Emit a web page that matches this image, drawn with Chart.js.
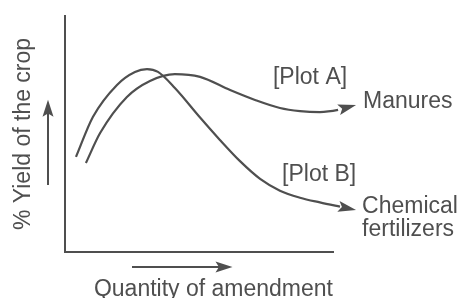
<!DOCTYPE html>
<html>
<head>
<meta charset="utf-8">
<script src="https://cdn.jsdelivr.net/npm/chart.js@4.4.0/dist/chart.umd.min.js"></script>
<style>
  html, body { margin: 0; padding: 0; background: #fff; }
  canvas { display: block; }
</style>
</head>
<body>
<canvas id="grafico" width="459" height="298"></canvas>
<script>
// curve A (manures) and curve B (chemical fertilizers)
const manuresX = [7.8, 13.1, 23.1, 31.7, 41.0, 50.4, 61.6, 70.9, 80.2, 87.7, 95.1, 101.9, 108.6];
const manuresY = [37.7, 50.4, 65.7, 72.5, 75.4, 74.2, 68.6, 64.4, 61.0, 59.7, 59.3, 60.2, 62.3];
const chemicalX = [4.1, 10.4, 19.4, 26.1, 30.6, 34.7, 41.0, 50.4, 57.8, 65.3, 72.8, 80.2, 87.7, 95.1, 102.6, 108.6];
const chemicalY = [40.3, 57.2, 70.8, 76.3, 77.5, 76.3, 69.5, 57.0, 47.5, 38.5, 31.0, 26.0, 23.0, 21.0, 19.2, 17.8];

const seriesNames = ['Manures', 'Chemical fertilizers'];
const plotNames = ['[Plot A]', '[Plot B]'];
const xTitle = 'Quantity of amendment';
const yTitle = '% Yield of the crop';

const cor = '#4f4f4f';
const fonte = '"Liberation Sans", Arial, sans-serif';

function pares(xs, ys) {
    return xs.map((v, i) => ({ x: v, y: ys[i] }));
}

function ponta(ctx, x0, y0, x1, y1, L, W) {
    const a = Math.atan2(y1 - y0, x1 - x0);
    const c = Math.cos(a), s = Math.sin(a);
    ctx.beginPath();
    ctx.moveTo(x1, y1);
    ctx.lineTo(x1 - L * c + W * s, y1 - L * s - W * c);
    ctx.lineTo(x1 - L * 0.8 * c, y1 - L * 0.8 * s);
    ctx.lineTo(x1 - L * c - W * s, y1 - L * s + W * c);
    ctx.closePath();
    ctx.fill();
}

const setas = {
    id: 'setas',
    afterDraw(chart) {
        const ctx = chart.ctx;
        const sx = chart.scales.x, sy = chart.scales.y;
        const area = chart.chartArea;
        ctx.save();
        ctx.fillStyle = cor;
        ctx.strokeStyle = cor;
        ctx.lineWidth = 2;

        // arrowheads at the end of each curve
        const tips = [];
        chart.data.datasets.forEach((ds, i) => {
            const pts = chart.getDatasetMeta(i).data;
            const a = pts[pts.length - 2], b = pts[pts.length - 1];
            ponta(ctx, a.x, a.y, b.x, b.y, 18, 5.5);
            tips.push(b);
        });

        // arrow under the x axis
        const xa0 = sx.getPixelForValue(25), xa1 = sx.getPixelForValue(62.5);
        const ya = area.bottom + 15;
        ctx.beginPath();
        ctx.moveTo(xa0, ya);
        ctx.lineTo(xa1 - 12, ya);
        ctx.stroke();
        ponta(ctx, xa0, ya, xa1, ya, 17, 5.5);

        // arrow beside the y axis
        const yb0 = sy.getPixelForValue(28.4), yb1 = sy.getPixelForValue(64.5);
        const xb = area.left - 17;
        ctx.beginPath();
        ctx.moveTo(xb, yb0);
        ctx.lineTo(xb, yb1 + 12);
        ctx.stroke();
        ponta(ctx, xb, yb0, xb, yb1, 17, 5.5);

        // labels
        ctx.font = '23px ' + fonte;
        ctx.textBaseline = 'middle';
        ctx.textAlign = 'left';
        ctx.fillText(seriesNames[0], tips[0].x + 7, tips[0].y - 3);
        const chem = seriesNames[1].split(' ');
        ctx.fillText(chem[0], tips[1].x + 6, tips[1].y - 3);
        ctx.fillText(chem[1], tips[1].x + 6, tips[1].y + 20);
        ctx.fillText(plotNames[0], sx.getPixelForValue(77.6), sy.getPixelForValue(73.9));
        ctx.fillText(plotNames[1], sx.getPixelForValue(81), sy.getPixelForValue(32.6));
        ctx.restore();
    }
};

const grafico = document.getElementById('grafico').getContext('2d');

const myChart = new Chart(grafico, {
    type: 'line',
    data: {
        datasets: [{
            label: seriesNames[0],
            data: pares(manuresX, manuresY),
            borderColor: cor,
            borderWidth: 2.2,
            pointRadius: 0,
            cubicInterpolationMode: 'monotone',
            fill: false,
            clip: false
        }, {
            label: seriesNames[1],
            data: pares(chemicalX, chemicalY),
            borderColor: cor,
            borderWidth: 2.2,
            pointRadius: 0,
            cubicInterpolationMode: 'monotone',
            fill: false,
            clip: false
        }]
    },
    options: {
        responsive: false,
        animation: false,
        events: [],
        layout: {
            padding: { left: 12, top: 16, right: 126, bottom: 0 }
        },
        plugins: {
            legend: { display: false },
            tooltip: { enabled: false }
        },
        scales: {
            x: {
                type: 'linear',
                min: 0,
                max: 100,
                grid: { display: false, drawTicks: false },
                ticks: { display: false },
                border: { display: true, color: cor, width: 2 },
                title: {
                    display: true,
                    text: xTitle,
                    align: 'end',
                    color: cor,
                    font: { family: fonte, size: 23, lineHeight: 1 },
                    padding: { top: 26, bottom: -3 }
                }
            },
            y: {
                type: 'linear',
                min: 0,
                max: 100,
                grid: { display: false, drawTicks: false },
                ticks: { display: false },
                border: { display: true, color: cor, width: 2 },
                title: {
                    display: true,
                    text: yTitle,
                    align: 'center',
                    color: cor,
                    font: { family: fonte, size: 23, lineHeight: 1 },
                    padding: { top: 0, bottom: 30 }
                }
            }
        }
    },
    plugins: [setas]
});
</script>
</body>
</html>
